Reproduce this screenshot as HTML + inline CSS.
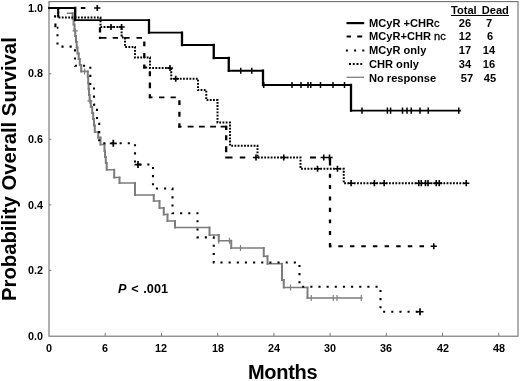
<!DOCTYPE html><html><head><meta charset="utf-8"><title>KM</title><style>
html,body{margin:0;padding:0;background:#fff;}
body{width:520px;height:381px;position:relative;overflow:hidden;font-family:"Liberation Sans",sans-serif;color:#000;}
.t{position:absolute;white-space:nowrap;font-weight:bold;line-height:1;will-change:transform;}
.yt{font-size:10.8px;width:30px;text-align:right;left:13px;}
.xt{font-size:10.8px;width:30px;text-align:center;}
.lg{font-size:11.1px;}
.lc{font-weight:normal;-webkit-text-stroke:0.3px #000;}
</style></head><body>
<svg width="520" height="381" viewBox="0 0 520 381" style="position:absolute;left:0;top:0">
<rect x="0" y="0" width="520" height="381" fill="#fff"/>
<rect x="49" y="1.6" width="469" height="334.6" fill="none" stroke="#707070" stroke-width="1.1"/>
<path d="M105.22,336V332.8M161.44,336V332.8M217.66,336V332.8M273.88,336V332.8M330.1,336V332.8M386.32,336V332.8M442.54,336V332.8M498.76,336V332.8M49,8.3H51.4M49,73.82H51.4M49,139.34H51.4M49,204.86H51.4M49,270.38H51.4" stroke="#777" stroke-width="1" fill="none"/>
<path d="M67.6,13.2H72.7M72.7,18.9H73.6M73.6,24.6H74.5M74.5,30.4H75.2M75.2,36.1H76M76,41.9H76.7M76.7,47.6H77.5M77.5,53.4H78.7M78.7,59.1H79.8M79.8,64.9H81.2M81.2,71.4H87.8M87.8,77.3H88.2M88.2,83.2H88.6M88.6,89.1H89M89,95H89.6M89.6,101H90.8M90.8,107H92.2M92.2,113H93.2M93.2,119H94M94,125.5H94.8M94.8,132H98.2M98.2,137.6H100.5M100.5,144.5H104.5M104.5,151H105M105,157H105.8M105.8,163H106.7M106.7,169.7H114.2M114.2,177.5H119.5M119.5,183H135M135,195H153.75M153.75,201H159.5M159.5,208H163.75M163.75,214.5H167.5M167.5,221H175M175,227.5H209.5M209.5,235H218.75M218.75,240.75H231.25M231.25,248H263.75M263.75,256.25H267.5M267.5,263.75H282M282,280H283.75M283.75,287.5H307.5M307.5,298H361.8" stroke="#7c7c7c" stroke-width="1.6" fill="none" stroke-linecap="square"/>
<path d="M72.7,13.2V18.9M73.6,18.9V24.6M74.5,24.6V30.4M75.2,30.4V36.1M76,36.1V41.9M76.7,41.9V47.6M77.5,47.6V53.4M78.7,53.4V59.1M79.8,59.1V64.9M81.2,64.9V71.4M87.8,71.4V77.3M88.2,77.3V83.2M88.6,83.2V89.1M89,89.1V95M89.6,95V101M90.8,101V107M92.2,107V113M93.2,113V119M94,119V125.5M94.8,125.5V132M98.2,132V137.6M100.5,137.6V144.5M104.5,144.5V151M105,151V157M105.8,157V163M106.7,163V169.7M114.2,169.7V177.5M119.5,177.5V183M135,183V195M153.75,195V201M159.5,201V208M163.75,208V214.5M167.5,214.5V221M175,221V227.5M209.5,227.5V235M218.75,235V240.75M231.25,240.75V248M263.75,248V256.25M267.5,256.25V263.75M282,263.75V280M283.75,280V287.5M307.5,287.5V298" stroke="#7c7c7c" stroke-width="2" fill="none" stroke-linecap="square"/>
<path d="M84.6,68.4V74.4M218.75,237.75V243.75M229.5,237.75V243.75M240.5,245V251M290.5,284.5V290.5M311.25,295V301M333.25,295V301M337,295V301M361.25,295V301M87.30000000000001,101H92.5M89.9,98V104M72.60000000000001,30.8H77.8M75.2,27.8V33.8" stroke="#808080" stroke-width="1.2" fill="none"/>
<path d="M57.5,31.2 V46.6 H75 V65.8 H90.3 V85.3 H94 V104.6 H97 V123.8 H99.2 V143.3 H135 V164.5 H153 V188.5 H172.5 V213.2 H197.5 V237.4 H213.75 V262.5 H299.5 V286.75 H380.5 V311.75 H420" stroke="#000" stroke-width="2.1" fill="none" stroke-dasharray="2.1 6.05" stroke-dashoffset="-3.05"/>
<path d="M54,16.4h2.1M55.4,23.6v3.6M56.8,27.7h1.6" stroke="#000" stroke-width="2.1" fill="none"/>
<path d="M109.8,143.3H116.8M113.3,139.8V146.8M134.5,164.6H141.5M138,161.1V168.1M416.5,311.75H423.5M420,308.25V315.25" stroke="#000" stroke-width="1.7" fill="none"/>
<path d="M49,8H51.8M57.8,8H63.2M69.3,8H74.7M80.8,8H85.4M99,37.8H106.5M112.7,37.8H118M124.2,37.8H129.6M136.5,37.8H142M143.3,67.5H147.2M148.9,97.3H152.5M159,97.3H164.4M170.6,97.3H175.8M178.4,126.7H181.5M187.7,126.7H193.6M198.9,126.7H204.8M210.1,126.7H216M220.6,126.7H227.2M225.2,157.5H232.5M239.8,157.5H245.3M310,157.5H316M329,246.25H331.5M338.3,246.25H342.8M349.9,246.25H354.4M361.3,246.25H365.8M372.9,246.25H377.4M384.6,246.25H389.1M396.2,246.25H400.7M407.8,246.25H412.3M419.5,246.25H424" stroke="#000" stroke-width="1.8" fill="none"/>
<path d="M100,27.4V32.4M100,36.8V38.8M144.3,41.6V46.2M144.3,53V58M144.3,64.5V68.5M149.9,71.3V76.3M149.9,82.6V88.2M149.9,94.2V98.3M179.4,100.2V105M179.4,111.8V116.8M179.4,123.2V127.7M226.2,125.7V130M226.2,135.2V140.2M226.2,146.2V152.2M330,157.5V165.5M330,173.8V177.7M330,185.1V188.9M330,196.6V200.4M330,207.8V211.9M330,219.5V223.3M330,231.1V234.9M330,243V247.2" stroke="#000" stroke-width="2.3" fill="none"/>
<path d="M252,157.5H305" stroke="#fff" stroke-width="3.4" fill="none"/>
<path d="M94.2,8H100.39999999999999M97.3,4.9V11.1M320.65,157.5H326.85M323.75,154.4V160.6M326.4,157.5H332.6M329.5,154.4V160.6M430.65,246.25H436.85M433.75,243.15V249.35" stroke="#000" stroke-width="1.6" fill="none"/>
<path d="M49,8 H58.2 V17.6 H100.5 V27 H121.6 V37.5 H125 V47 H135 V57.5 H150 V68 H171.25 V78.75 H198 V90 H206.25 V100 H217.5 V122.5 H230 V145.75 H257.5 V157.5 H300.5 V168.75 H343.75 V183.2 H466.25" stroke="#000" stroke-width="2" fill="none" stroke-dasharray="1.8 1.4"/>
<path d="M58.2,8V17.6" stroke="#000" stroke-width="2" fill="none"/>
<path d="M107.9,27H114.1M111,23.9V30.1M118.5,27H124.69999999999999M121.6,23.9V30.1M166.9,68H173.1M170,64.9V71.1M172.65,78.75H178.85M175.75,75.65V81.85M252.9,157.5H259.1M256,154.4V160.6M280.65,157.5H286.85M283.75,154.4V160.6M314.4,168.75H320.6M317.5,165.65V171.85M334.4,168.75H340.6M337.5,165.65V171.85M348.0,183.2H354.20000000000005M351.1,180.1V186.29999999999998M371.29999999999995,183.2H377.5M374.4,180.1V186.29999999999998M381.09999999999997,183.2H387.3M384.2,180.1V186.29999999999998M415.65,183.2H421.85M418.75,180.1V186.29999999999998M418.15,183.2H424.35M421.25,180.1V186.29999999999998M422.4,183.2H428.6M425.5,180.1V186.29999999999998M424.9,183.2H431.1M428,180.1V186.29999999999998M433.15,183.2H439.35M436.25,180.1V186.29999999999998M436.15,183.2H442.35M439.25,180.1V186.29999999999998M463.15,183.2H469.35M466.25,180.1V186.29999999999998" stroke="#000" stroke-width="1.6" fill="none"/>
<path d="M49,8H75.2M75.2,20.2H149M149,32.7H182M182,45H213.75M213.75,58H228.75M228.75,70.75H263M263,85H351M351,110.6H460" stroke="#000" stroke-width="1.8" fill="none" stroke-linecap="square"/>
<path d="M75.2,8V20.2M149,20.2V32.7M182,32.7V45M213.75,45V58M228.75,58V70.75M263,70.75V85M351,85V110.6" stroke="#000" stroke-width="2.3" fill="none" stroke-linecap="square"/>
<path d="M240.75,67.65V73.85M251.75,67.65V73.85M263.75,81.9V88.1M292,81.9V88.1M301,81.9V88.1M308,81.9V88.1M310.75,81.9V88.1M320.5,81.9V88.1M333,81.9V88.1M344.5,81.9V88.1M362,107.5V113.69999999999999M387.4,107.5V113.69999999999999M390.6,107.5V113.69999999999999M402.5,107.5V113.69999999999999M407,107.5V113.69999999999999M411.25,107.5V113.69999999999999M420,107.5V113.69999999999999M428.25,107.5V113.69999999999999M458.75,107.5V113.69999999999999" stroke="#000" stroke-width="1.5" fill="none"/>
<path d="M346.5,23.1H364.2" stroke="#000" stroke-width="2.2" fill="none"/>
<path d="M346.6,36.6H351M357.2,36.6H362.2" stroke="#000" stroke-width="2" fill="none"/>
<path d="M345.9,50.6H365" stroke="#000" stroke-width="2" stroke-dasharray="2 6.2" fill="none"/>
<path d="M349,63.9H362.5" stroke="#000" stroke-width="2" stroke-dasharray="2 1.75" fill="none"/>
<path d="M346.5,77.3H364" stroke="#808080" stroke-width="1.3" fill="none"/>
</svg>
<div class="t yt" style="top:2.9px">1.0</div>
<div class="t yt" style="top:68.4px">0.8</div>
<div class="t yt" style="top:133.9px">0.6</div>
<div class="t yt" style="top:199.5px">0.4</div>
<div class="t yt" style="top:265.0px">0.2</div>
<div class="t yt" style="top:330.5px">0.0</div>
<div class="t xt" style="left:34.0px;top:343px">0</div>
<div class="t xt" style="left:90.2px;top:343px">6</div>
<div class="t xt" style="left:146.4px;top:343px">12</div>
<div class="t xt" style="left:202.7px;top:343px">18</div>
<div class="t xt" style="left:258.9px;top:343px">24</div>
<div class="t xt" style="left:315.1px;top:343px">30</div>
<div class="t xt" style="left:371.3px;top:343px">36</div>
<div class="t xt" style="left:427.5px;top:343px">42</div>
<div class="t xt" style="left:483.8px;top:343px">48</div>
<div class="t" id="xl" style="font-size:20px;letter-spacing:-0.3px;left:248.3px;top:361.8px">Months</div>
<div class="t" id="yl" style="font-size:20.3px;left:-0.7px;top:300.8px;transform-origin:0 0;transform:rotate(-90deg)">Probability Overall Survival</div>
<div class="t" id="pv" style="font-size:12.7px;left:118.3px;top:282.6px;word-spacing:1.2px"><i>P</i> &lt; .001</div>
<div class="t lg" id="lh" style="left:451px;top:4.9px"><span style="text-decoration:underline;word-spacing:2px">Total Dead</span></div>
<div class="t lg" id="r0" style="left:369px;top:18.2px">MCyR +CHR<span class="lc">c</span></div>
<div class="t lg" style="left:449.6px;width:30px;text-align:center;top:18.2px">26</div>
<div class="t lg" style="left:474.1px;width:30px;text-align:center;top:18.2px">7</div>
<div class="t lg" id="r1" style="left:369px;top:31.2px">MCyR+CHR <span class="lc">nc</span></div>
<div class="t lg" style="left:449.6px;width:30px;text-align:center;top:31.2px">12</div>
<div class="t lg" style="left:474.7px;width:30px;text-align:center;top:31.2px">6</div>
<div class="t lg" id="r2" style="left:369px;top:44.9px">MCyR only</div>
<div class="t lg" style="left:449.6px;width:30px;text-align:center;top:44.9px">17</div>
<div class="t lg" style="left:474.1px;width:30px;text-align:center;top:44.9px">14</div>
<div class="t lg" id="r3" style="left:369px;top:58.9px">CHR only</div>
<div class="t lg" style="left:449.6px;width:30px;text-align:center;top:58.9px">34</div>
<div class="t lg" style="left:474.1px;width:30px;text-align:center;top:58.9px">16</div>
<div class="t lg" id="r4" style="left:369px;top:72.5px">No response</div>
<div class="t lg" style="left:451.8px;width:30px;text-align:center;top:72.5px">57</div>
<div class="t lg" style="left:475.4px;width:30px;text-align:center;top:72.5px">45</div>
</body></html>
